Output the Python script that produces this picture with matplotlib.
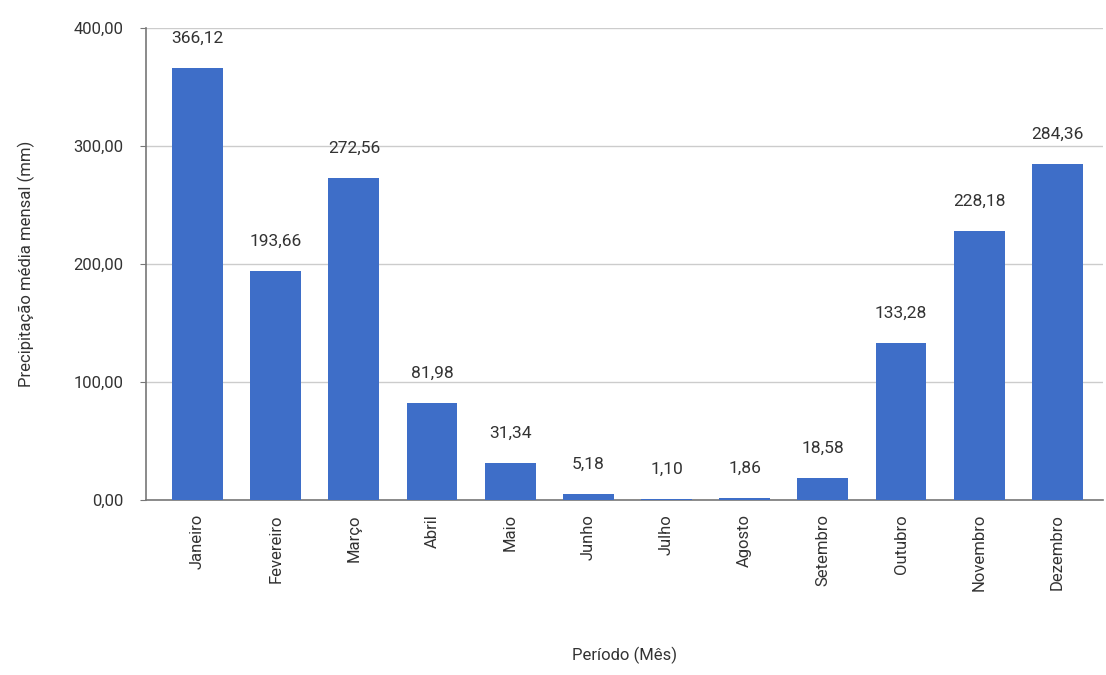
#!/usr/bin/env python3
"""Monthly mean precipitation bar chart."""
import matplotlib

matplotlib.use("Agg")
import matplotlib.pyplot as plt

plt.rcParams["font.family"] = ["Roboto", "DejaVu Sans"]

MONTHS = ["Janeiro", "Fevereiro", "Março", "Abril", "Maio", "Junho",
          "Julho", "Agosto", "Setembro", "Outubro", "Novembro", "Dezembro"]
PRECIP = [366.12, 193.66, 272.56, 81.98, 31.34, 5.18,
          1.10, 1.86, 18.58, 133.28, 228.18, 284.36]
Y_TICKS = [0, 100, 200, 300, 400]


def br(v: float) -> str:
    return f"{v:.2f}".replace(".", ",")


fig = plt.figure(figsize=(11.06, 6.75), dpi=100)
ax = fig.add_axes([0.132, 0.259, 0.865, 0.70])

x = range(len(MONTHS))
ax.bar(x, PRECIP, width=0.65, color="#3e6ec8", zorder=3)
for i, v in zip(x, PRECIP):
    ax.annotate(br(v), (i, v), textcoords="offset points", xytext=(0, 16),
                ha="center", va="bottom", fontsize=12.5, color="#333333")

ax.set_xlim(-0.66, 11.58)
ax.set_ylim(0, 400)
ax.set_yticks(Y_TICKS)
ax.set_yticklabels([br(t) for t in Y_TICKS], fontsize=12, color="#333333")
ax.set_xticks(list(x))
ax.set_xticklabels(MONTHS, rotation=90, fontsize=12, color="#333333")
ax.tick_params(axis="x", length=0, pad=10)
ax.tick_params(axis="y", length=4, color="#777777", pad=12)

ax.grid(axis="y", color="#cccccc", linewidth=1, zorder=0)
for side in ("top", "right"):
    ax.spines[side].set_visible(False)
ax.spines["left"].set_color("#777777")
ax.spines["bottom"].set_color("#777777")
ax.spines["left"].set_linewidth(1.2)
ax.spines["bottom"].set_linewidth(1.2)

ax.set_ylabel("Precipitação média mensal (mm)", fontsize=12, color="#333333",
              labelpad=28)
ax.set_xlabel("Período (Mês)", fontsize=12, color="#333333", labelpad=40)

fig.savefig("out.png", dpi=100)
